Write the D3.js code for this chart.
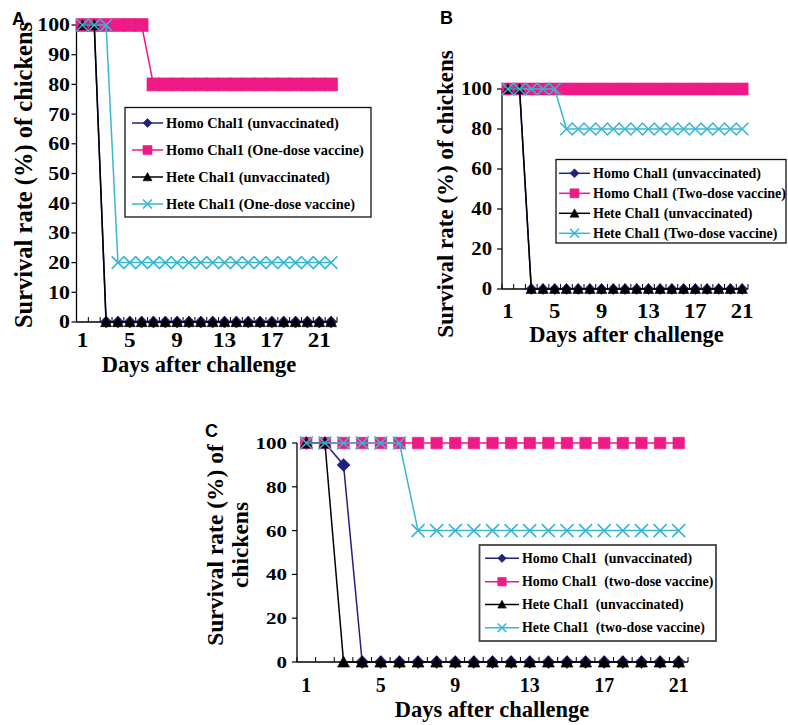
<!DOCTYPE html>
<html>
<head>
<meta charset="utf-8">
<script src="https://cdn.jsdelivr.net/npm/d3@7"></script>
<style>
body { margin: 0; background: #fff; }
svg text { font-family: "Liberation Serif", "Times New Roman", serif; font-weight: bold; fill: #000; }
</style>
</head>
<body>
<svg id="chart" width="788" height="725"></svg>
<script>
// ---- data ----
const daysA = [1,2,3,4,5,6,7,8,9,10,11,12,13,14,15,16,17,18,19,20,21,22];
const daysBC = [1,2,3,4,5,6,7,8,9,10,11,12,13,14,15,16,17,18,19,20,21];
const xTickDays = [1,5,9,13,17,21];
const yTicksA = [0,10,20,30,40,50,60,70,80,90,100];
const yTicksBC = [0,20,40,60,80,100];

// panel A (one-dose)
const homoUnvacA = [100,100,0,0,0,0,0,0,0,0,0,0,0,0,0,0,0,0,0,0,0,0];
const homoVacA   = [100,100,100,100,100,100,80,80,80,80,80,80,80,80,80,80,80,80,80,80,80,80];
const heteUnvacA = [100,100,0,0,0,0,0,0,0,0,0,0,0,0,0,0,0,0,0,0,0,0];
const heteVacA   = [100,100,100,20,20,20,20,20,20,20,20,20,20,20,20,20,20,20,20,20,20,20];
// panel B (two-dose)
const homoUnvacB = [100,100,0,0,0,0,0,0,0,0,0,0,0,0,0,0,0,0,0,0,0];
const homoVacB   = [100,100,100,100,100,100,100,100,100,100,100,100,100,100,100,100,100,100,100,100,100];
const heteUnvacB = [100,100,0,0,0,0,0,0,0,0,0,0,0,0,0,0,0,0,0,0,0];
const heteVacB   = [100,100,100,100,100,80,80,80,80,80,80,80,80,80,80,80,80,80,80,80,80];
// panel C (two-dose)
const homoUnvacC = [100,100,90,0,0,0,0,0,0,0,0,0,0,0,0,0,0,0,0,0,0];
const homoVacC   = [100,100,100,100,100,100,100,100,100,100,100,100,100,100,100,100,100,100,100,100,100];
const heteUnvacC = [100,100,0,0,0,0,0,0,0,0,0,0,0,0,0,0,0,0,0,0,0];
const heteVacC   = [100,100,100,100,100,100,60,60,60,60,60,60,60,60,60,60,60,60,60,60,60];

const namesA = ["Homo Chal1 (unvaccinated)", "Homo Chal1 (One-dose vaccine)", "Hete Chal1 (unvaccinated)", "Hete Chal1 (One-dose vaccine)"];
const namesB = ["Homo Chal1 (unvaccinated)", "Homo Chal1 (Two-dose vaccine)", "Hete Chal1 (unvaccinated)", "Hete Chal1 (Two-dose vaccine)"];
const namesC = ["Homo Chal1  (unvaccinated)", "Homo Chal1  (two-dose vaccine)", "Hete Chal1  (unvaccinated)", "Hete Chal1  (two-dose vaccine)"];

// ---- styles ----
const colours = ["#23217f", "#ee1a86", "#000000", "#38b7d5"];
const shapes = ["diamond", "square", "triangle", "cross"];

const svg = d3.select("#chart");

function markerPath(shape, s) {
	const h = s / 2;
	if (shape == "diamond") return `M0,${-h}L${h},0L0,${h}L${-h},0Z`;
	if (shape == "square") return `M${-h},${-h}H${h}V${h}H${-h}Z`;
	if (shape == "triangle") return `M0,${-h}L${h},${h * 0.85}L${-h},${h * 0.85}Z`;
	return `M${-h},${-h}L${h},${h}M${h},${-h}L${-h},${h}`;
}

function addMarker(g, shape, colour, s, x, y) {
	g.append("path")
		.attr("d", markerPath(shape, s))
		.attr("transform", `translate(${x},${y})`)
		.attr("fill", shape == "cross" ? "none" : colour)
		.attr("stroke", colour)
		.attr("stroke-width", shape == "cross" ? 1.6 : 0.6);
}

function drawPanel(p) {
	const g = svg.append("g");

	const x = d3.scaleBand().domain(p.days).range([p.left, p.right]).padding(0);
	const y = d3.scaleLinear().domain([0, 100]).range([p.bottom, p.top]);
	const cx = (d) => x(d) + x.bandwidth() / 2;

	// panel letter
	g.append("text")
		.attr("x", p.letterX).attr("y", p.letterY)
		.style("font-family", "'Liberation Sans', Arial, sans-serif")
		.style("font-size", "18px")
		.text(p.letter);

	// axes lines
	g.append("line")
		.attr("x1", p.left).attr("x2", p.left)
		.attr("y1", y(0)).attr("y2", y(100))
		.attr("stroke", "#000").attr("stroke-width", 1.3);
	g.append("line")
		.attr("x1", p.left).attr("x2", p.right)
		.attr("y1", y(0)).attr("y2", y(0))
		.attr("stroke", "#000").attr("stroke-width", 1.3);

	// y ticks + labels
	p.yTicks.forEach((t) => {
		g.append("line")
			.attr("x1", p.left - 5).attr("x2", p.left)
			.attr("y1", y(t)).attr("y2", y(t))
			.attr("stroke", "#000").attr("stroke-width", 1.2);
		g.append("text")
			.attr("transform", `translate(${p.yLabelRight},${y(t) + p.yFont * 0.34}) scale(${p.yStretch},1)`)
			.attr("text-anchor", "end")
			.style("font-size", p.yFont + "px")
			.text(t);
	});

	// x ticks between categories, pointing up
	const edges = p.days.map((d) => x(d)).concat([p.right]);
	edges.forEach((e) => {
		g.append("line")
			.attr("x1", e).attr("x2", e)
			.attr("y1", y(0)).attr("y2", y(0) - 5)
			.attr("stroke", "#000").attr("stroke-width", 1);
	});
	xTickDays.forEach((d) => {
		g.append("text")
			.attr("transform", `translate(${cx(d)},${p.xLabelY}) scale(${p.xStretch},1)`)
			.attr("text-anchor", "middle")
			.style("font-size", p.xFont + "px")
			.text(d);
	});

	// axis titles
	g.append("text")
		.attr("x", p.xTitleX).attr("y", p.xTitleY)
		.attr("text-anchor", "middle")
		.style("font-size", "22.5px")
		.text("Days after challenge");
	p.yTitle.forEach((line, i) => {
		g.append("text")
			.attr("transform", `translate(${p.yTitleX[i]},${p.yTitleY}) rotate(-90)`)
			.attr("text-anchor", "middle")
			.style("font-size", p.yTitleFont + "px")
			.text(line);
	});

	// series
	const line = d3.line().x((d) => cx(d[0])).y((d) => y(d[1]));
	p.series.forEach((vals, i) => {
		const pts = d3.zip(p.days, vals);
		g.append("path")
			.attr("d", line(pts))
			.attr("fill", "none")
			.attr("stroke", colours[i])
			.attr("stroke-width", 1.5);
		const mg = g.append("g");
		pts.forEach((d) => addMarker(mg, shapes[i], colours[i], p.markerSize[i], cx(d[0]), y(d[1])));
	});

	// legend
	const L = p.legend;
	g.append("rect")
		.attr("x", L.x0).attr("y", L.y0)
		.attr("width", L.x1 - L.x0).attr("height", L.y1 - L.y0)
		.attr("fill", "#fff")
		.attr("stroke", L.border).attr("stroke-width", L.borderWidth);
	p.names.forEach((name, i) => {
		const ly = L.rows[i];
		g.append("line")
			.attr("x1", L.lineX0).attr("x2", L.lineX1)
			.attr("y1", ly).attr("y2", ly)
			.attr("stroke", colours[i]).attr("stroke-width", 1.5);
		addMarker(g, shapes[i], colours[i], L.marker, (L.lineX0 + L.lineX1) / 2, ly);
		g.append("text")
			.attr("x", L.textX).attr("y", ly + L.font * 0.34)
			.style("font-size", L.font + "px")
			.style("white-space", "pre")
			.text(name);
	});
}

drawPanel({
	letter: "A", letterX: 12, letterY: 25,
	days: daysA, left: 76.5, right: 337, top: 25, bottom: 322,
	yTicks: yTicksA, yLabelRight: 70, yFont: 19, yStretch: 1.15,
	xLabelY: 347, xFont: 22, xStretch: 1.05,
	xTitleX: 199, xTitleY: 372,
	yTitle: ["Survival rate (%) of chickens"], yTitleX: [32], yTitleY: 175, yTitleFont: 24.5,
	series: [homoUnvacA, homoVacA, heteUnvacA, heteVacA],
	markerSize: [12, 13, 11, 12.5],
	names: namesA,
	legend: { x0: 125, x1: 371, y0: 107.5, y1: 217, rows: [123, 150, 177, 204],
		lineX0: 132, lineX1: 163, textX: 166, font: 14.4, marker: 9, border: "#111", borderWidth: 1.3 }
});

drawPanel({
	letter: "B", letterX: 440, letterY: 24,
	days: daysBC, left: 502, right: 748, top: 89, bottom: 289,
	yTicks: yTicksBC, yLabelRight: 492, yFont: 18.5, yStretch: 1.12,
	xLabelY: 318, xFont: 21, xStretch: 1.08,
	xTitleX: 626.5, xTitleY: 342,
	yTitle: ["Survival rate (%) of chickens"], yTitleX: [453], yTitleY: 194, yTitleFont: 23,
	series: [homoUnvacB, homoVacB, heteUnvacB, heteVacB],
	markerSize: [11, 12, 10.5, 12.5],
	names: namesB,
	legend: { x0: 556, x1: 786, y0: 159.5, y1: 243, rows: [173.3, 193.3, 213.3, 233.3],
		lineX0: 559, lineX1: 590, textX: 593, font: 14, marker: 9, border: "#111", borderWidth: 1.3 }
});

drawPanel({
	letter: "C", letterX: 205, letterY: 437,
	days: daysBC, left: 297, right: 688, top: 443, bottom: 662,
	yTicks: yTicksBC, yLabelRight: 287, yFont: 17.5, yStretch: 1.2,
	xLabelY: 692, xFont: 20, xStretch: 1,
	xTitleX: 492, xTitleY: 717,
	yTitle: ["Survival rate (%) of", "chickens"], yTitleX: [223, 248], yTitleY: 545, yTitleFont: 23.5,
	series: [homoUnvacC, homoVacC, heteUnvacC, heteVacC],
	markerSize: [13, 11.5, 12, 13],
	names: namesC,
	legend: { x0: 479.5, x1: 716, y0: 545, y1: 641, rows: [558.3, 581.7, 604.5, 627.7],
		lineX0: 485, lineX1: 519, textX: 522, font: 13.9, marker: 8.5, border: "#444", borderWidth: 1.8 }
});
</script>
</body>
</html>
